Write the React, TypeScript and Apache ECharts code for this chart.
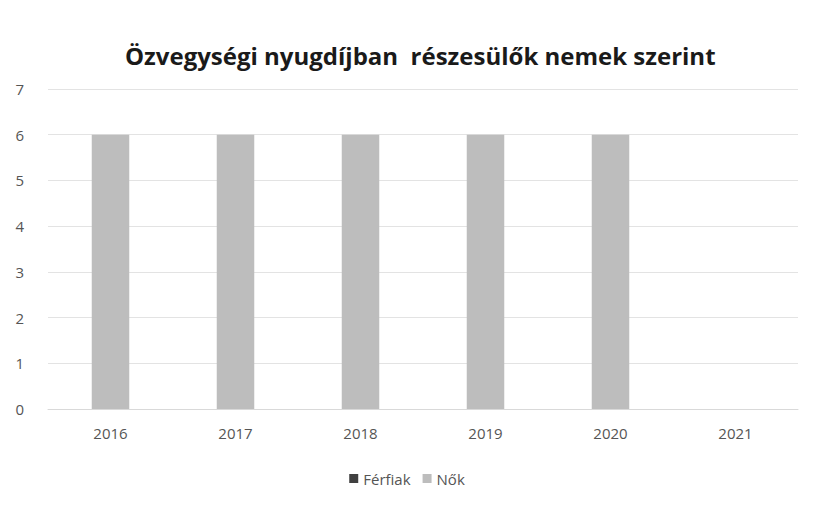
import React, { useEffect, useRef } from "react";
import * as echarts from "echarts";

const categories = ["2016", "2017", "2018", "2019", "2020", "2021"];
const ferfiak = [0, 0, 0, 0, 0, null];
const nok = [6, 6, 6, 6, 6, null];
const yTicks = [0, 1, 2, 3, 4, 5, 6, 7];

export default function App() {
  const ref = useRef<HTMLDivElement>(null);
  useEffect(() => {
    const chart = echarts.init(ref.current!, null, { renderer: "svg" });
    const font = "Open Sans";
    chart.setOption({
      animation: false,
      backgroundColor: "#ffffff",
      title: {
        text: "Özvegységi nyugdíjban  részesülők nemek szerint",
        left: 120,
        top: 38,
        textStyle: { fontFamily: font, fontWeight: "bold", fontSize: 24, color: "#1a1a1a" },
      },
      legend: {
        bottom: 20,
        left: "center",
        icon: "rect",
        itemWidth: 9,
        itemHeight: 9,
        itemGap: 12,
        textStyle: { fontFamily: font, fontSize: 15, color: "#555" },
        data: ["Férfiak", "Nők"],
      },
      grid: { left: 48, right: 16, top: 89, bottom: 102, containLabel: false },
      xAxis: {
        type: "category",
        data: categories,
        axisLine: { show: true, lineStyle: { color: "#d9d9d9" } },
        axisTick: { show: false },
        axisLabel: { fontFamily: font, fontSize: 15, color: "#555", margin: 16 },
      },
      yAxis: {
        type: "value",
        min: yTicks[0],
        max: yTicks[yTicks.length - 1],
        interval: 1,
        axisLine: { show: false },
        axisTick: { show: false },
        splitLine: { lineStyle: { color: "#e3e3e3" } },
        axisLabel: { fontFamily: font, fontSize: 15, color: "#555", margin: 24 },
      },
      series: [
        {
          name: "Férfiak",
          type: "bar",
          stack: "a",
          data: ferfiak,
          barWidth: "30%",
          itemStyle: { color: "#404040" },
        },
        {
          name: "Nők",
          type: "bar",
          stack: "a",
          data: nok,
          barWidth: "30%",
          itemStyle: { color: "#bdbdbd" },
        },
      ],
    });
    return () => chart.dispose();
  }, []);
  return (
    <div
      ref={ref}
      style={{ width: 814, height: 511, position: "absolute", left: 0, top: 0 }}
    />
  );
}
